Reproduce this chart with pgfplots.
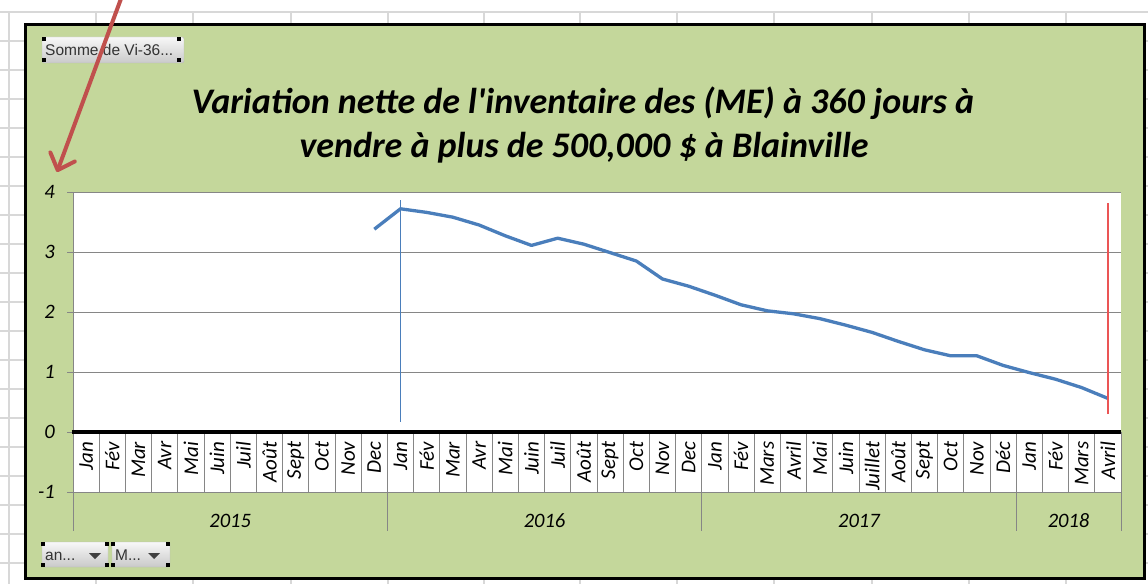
\documentclass[border=0pt]{standalone}
\usepackage{pgfplots}
\pgfplotsset{compat=1.18}
\usepackage{fontspec}
\setmainfont{Carlito}
\newfontfamily\uifont{Liberation Sans}
\usetikzlibrary{arrows.meta}
\definecolor{chartgreen}{RGB}{196,215,155}
\definecolor{exblue}{RGB}{74,126,187}
\definecolor{arrowred}{RGB}{192,80,77}
\definecolor{cellgrid}{RGB}{216,216,216}
\definecolor{gridgray}{RGB}{134,134,134}
\definecolor{markerred}{RGB}{235,85,85}
\tikzset{monthlab/.style={rotate=90, anchor=east, inner sep=0pt, font=\itshape\fontsize{21}{21}\selectfont}}
\begin{document}
\begin{tikzpicture}
\useasboundingbox (0pt,0pt) rectangle (1148pt,584pt);
\begin{scope}[x=1pt,y=-1pt,shift={(0pt,584pt)}]
\fill[white] (0,0) rectangle (1148,584);
\foreach \c in {9,96,193,291,388,484,580,677,774,872,969,1066}
  \draw[cellgrid, line width=1.5pt] (\c,12) -- (\c,584);
\foreach \r in {12,41,70,99,128,157,186,215,244,273,302,331,360,389,418,447,476,505,534,563}
  \draw[cellgrid, line width=1.5pt] (0,\r) -- (1148,\r);
\fill[chartgreen] (25.5,24.5) rectangle (1144,578.5);
\draw[black, line width=3pt] (25.5,24.5) rectangle (1144,578.5);
\end{scope}

\begin{axis}[
  at={(73pt,92pt)}, anchor=south west,
  width=1048pt, height=300pt, scale only axis,
  xmin=0, xmax=40, ymin=-1, ymax=4,
  clip=false,
  axis line style={draw=none},
  axis background/.style={fill=white},
  xtick=\empty,
  ytick={-1,0,1,2,3,4},
  yticklabels={-1,0,1,2,3,4},
  ytick pos=left,
  tick align=outside,
  major tick length=6pt,
  tick style={gridgray, line width=0.8pt},
  ymajorgrids, grid style={gridgray, line width=0.8pt},
  yticklabel style={font=\itshape\fontsize{20.5}{20.5}\selectfont, inner sep=0pt, anchor=east, xshift=-12pt},
]
% month cell separators
\pgfplotsinvokeforeach{1,...,39}{\draw[gridgray, line width=0.8pt] (axis cs:#1,0) -- (axis cs:#1,-1);}
% year group separators
\pgfplotsinvokeforeach{12,24,36,40}{\draw[gridgray, line width=0.8pt] (axis cs:#1,-1) -- (axis cs:#1,-1.65);}
\draw[gridgray, line width=0.8pt] (axis cs:0,4) -- (axis cs:0,-1.65);
\draw[gridgray, line width=0.8pt] (axis cs:40,0) -- (axis cs:40,-1);
% zero line
\draw[black, line width=3.3pt] (axis cs:-0.05,0) -- (axis cs:40,0);
% month labels
\foreach \i/\m in {0/Jan,1/Fév,2/Mar,3/Avr,4/Mai,5/Juin,6/Juil,7/Août,8/Sept,9/Oct,10/Nov,11/Dec,
  12/Jan,13/Fév,14/Mar,15/Avr,16/Mai,17/Juin,18/Juil,19/Août,20/Sept,21/Oct,22/Nov,23/Dec,
  24/Jan,25/Fév,26/Mars,27/Avril,28/Mai,29/Juin,30/Juillet,31/Août,32/Sept,33/Oct,34/Nov,35/Déc,
  36/Jan,37/Fév,38/Mars,39/Avril}{
  \edef\tmp{\noexpand\node[monthlab] at (axis cs:\i.5,-0.16) {\m};}
  \tmp
}
% year labels
\foreach \x/\y in {6/2015,18/2016,30/2017,38/2018}{
  \edef\tmp{\noexpand\node[font=\noexpand\itshape\noexpand\fontsize{20.5}{20.5}\noexpand\selectfont, inner sep=0pt] at (axis cs:\x,-1.48) {\y};}
  \tmp
}
% data
\addplot[exblue, line width=3.3pt, line join=round] coordinates {
(11.5,3.38) (12.5,3.72) (13.5,3.66) (14.5,3.58) (15.5,3.45) (16.5,3.27)
(17.5,3.11) (18.5,3.23) (19.5,3.13) (20.5,2.99) (21.5,2.85) (22.5,2.55)
(23.5,2.43) (24.5,2.28) (25.5,2.12) (26.5,2.02) (27.5,1.97) (28.5,1.89)
(29.5,1.78) (30.5,1.66) (31.5,1.51) (32.5,1.37) (33.5,1.27) (34.5,1.27)
(35.5,1.11) (36.5,0.99) (37.5,0.88) (38.5,0.74) (39.5,0.56)
};
\addplot[draw=exblue, line width=1pt] coordinates {(12.5,0.17) (12.5,3.86)};
\addplot[draw=markerred, line width=1.5pt] coordinates {(39.5,0.30) (39.5,3.81)};
\end{axis}

\begin{scope}[x=1pt,y=-1pt,shift={(0pt,584pt)}]
% title
\node[anchor=base, inner sep=0pt, font=\bfseries\itshape\fontsize{36}{42}\selectfont] at (583,114)
  {Variation nette de l\textquotesingle inventaire des (ME) à 360 jours à};
\node[anchor=base, inner sep=0pt, font=\bfseries\itshape\fontsize{36}{42}\selectfont] at (584,158)
  {vendre à plus de 500,000 \$ à Blainville};
% pivot buttons
\shade[top color=gray!6, bottom color=gray!42, draw=gray!55, rounded corners=1.5pt] (42,37) rectangle (184,63);
\node[anchor=base west, inner sep=0pt, text=black!80, font=\uifont\fontsize{15.5}{15.5}\selectfont] at (45,56) {Somme de Vi-36...};
\foreach \p in {(44,39),(179,39),(44,60),(179,60)} \fill[black] \p ++(-2,-2) rectangle ++(4,4);
\shade[top color=gray!6, bottom color=gray!42, draw=gray!55, rounded corners=1.5pt] (42,542) rectangle (108,567);
\node[anchor=base west, inner sep=0pt, text=black!80, font=\uifont\fontsize{15.5}{15.5}\selectfont] at (45,560) {an...};
\fill[black!75] (89,553) -- (101,553) -- (95,559) -- cycle;
\shade[top color=gray!6, bottom color=gray!42, draw=gray!55, rounded corners=1.5pt] (112,542) rectangle (170,567);
\node[anchor=base west, inner sep=0pt, text=black!80, font=\uifont\fontsize{15.5}{15.5}\selectfont] at (115,560) {M...};
\fill[black!75] (148,553) -- (160,553) -- (154,559) -- cycle;
\foreach \p in {(43,544),(107,544),(43,565),(107,565),(113,544),(168,544),(113,565),(168,565)} \fill[black] \p ++(-2,-2) rectangle ++(4,4);
% red arrow
\draw[arrowred, line width=4pt, line cap=round, -{Straight Barb[length=14pt, width=26pt, round]}] (122,-4) -- (57,172);
\end{scope}
\end{tikzpicture}
\end{document}
